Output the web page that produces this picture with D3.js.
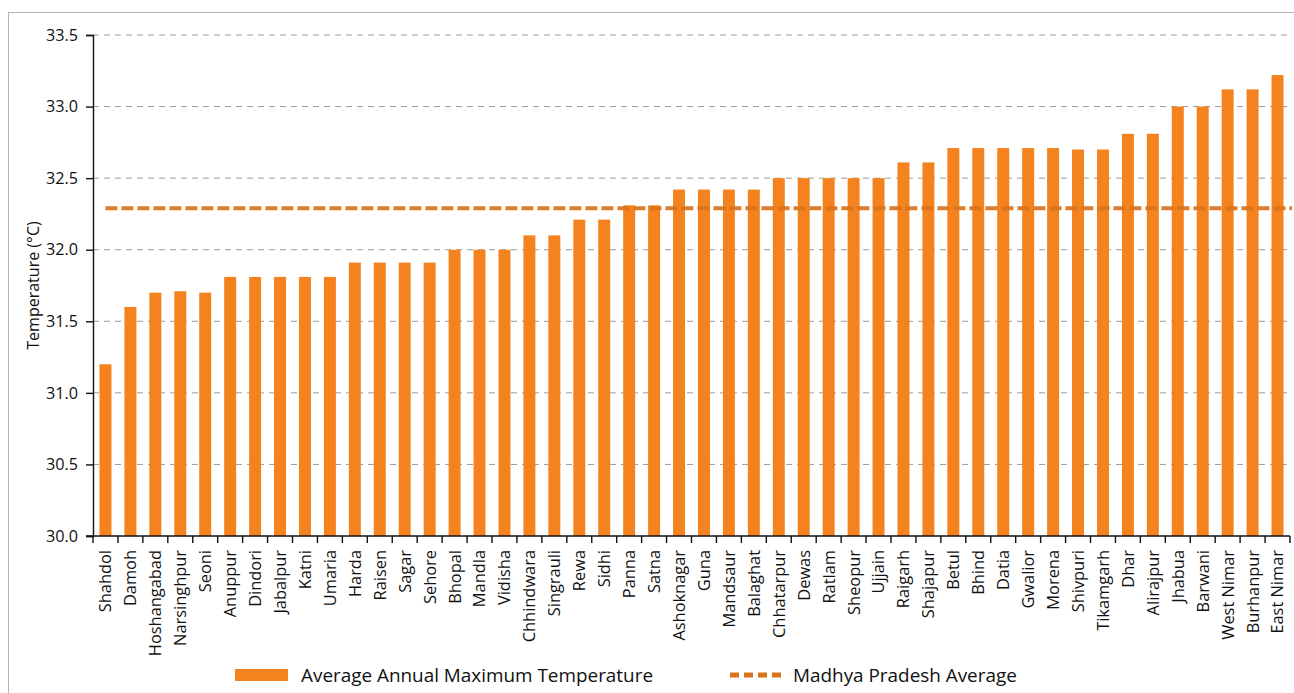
<!DOCTYPE html>
<html>
<head>
<meta charset="utf-8">
<script src="https://cdnjs.cloudflare.com/ajax/libs/d3/7.8.5/d3.min.js"></script>
<style>
    body { margin: 0; background: #fff; }
    svg text { font-family: "Open Sans", sans-serif; fill: #111; }
</style>
</head>
<body>
<svg id="svg_bar" width="1294" height="693"></svg>
<script>
let districts = ['Shahdol', 'Damoh', 'Hoshangabad', 'Narsinghpur', 'Seoni', 'Anuppur', 'Dindori', 'Jabalpur',
    'Katni', 'Umaria', 'Harda', 'Raisen', 'Sagar', 'Sehore', 'Bhopal', 'Mandla', 'Vidisha', 'Chhindwara',
    'Singrauli', 'Rewa', 'Sidhi', 'Panna', 'Satna', 'Ashoknagar', 'Guna', 'Mandsaur', 'Balaghat', 'Chhatarpur',
    'Dewas', 'Ratlam', 'Sheopur', 'Ujjain', 'Raigarh', 'Shajapur', 'Betul', 'Bhind', 'Datia', 'Gwalior',
    'Morena', 'Shivpuri', 'Tikamgarh', 'Dhar', 'Alirajpur', 'Jhabua', 'Barwani', 'West Nimar', 'Burhanpur', 'East Nimar']
let max_temp = [31.2, 31.6, 31.7, 31.71, 31.7, 31.81, 31.81, 31.81,
    31.81, 31.81, 31.91, 31.91, 31.91, 31.91, 32.0, 32.0, 32.0, 32.1,
    32.1, 32.21, 32.21, 32.31, 32.31, 32.42, 32.42, 32.42, 32.42, 32.5,
    32.5, 32.5, 32.5, 32.5, 32.61, 32.61, 32.71, 32.71, 32.71, 32.71,
    32.71, 32.7, 32.7, 32.81, 32.81, 33.0, 33.0, 33.12, 33.12, 33.22]
let mp_average = 32.29
let y_ticks = [30.0, 30.5, 31.0, 31.5, 32.0, 32.5, 33.0, 33.5]
let legend_labels = ['Average Annual Maximum Temperature', 'Madhya Pradesh Average']

let svg = d3.select('#svg_bar');
let bar_color = '#f4831f', avg_color = '#db731c';
let m_left = 93, m_right = 1290, m_top = 35, m_bottom = 536;

//外框
svg.append('rect')
    .attr('x', 8.5).attr('y', 12.5)
    .attr('width', 1300).attr('height', 700)
    .attr('fill', 'none')
    .attr('stroke', '#b5b5b5')
    .attr('stroke-width', 1);

let x = d3.scaleBand().domain(districts).range([m_left, m_right]).paddingInner(0.52).paddingOuter(0.26);
let y = d3.scaleLinear().domain([30, 33.5]).range([m_bottom, m_top]);

//网格线
svg.append('g').selectAll('line').data(y_ticks.slice(1)).enter()
    .append('line')
    .attr('x1', m_left).attr('x2', m_right)
    .attr('y1', d => y(d)).attr('y2', d => y(d))
    .attr('stroke', '#9a9a9a')
    .attr('stroke-width', 1)
    .attr('stroke-dasharray', '6,5');

//柱子
svg.append('g').selectAll('rect').data(max_temp).enter()
    .append('rect')
    .attr('x', (d, i) => x(districts[i]))
    .attr('y', d => y(d))
    .attr('width', x.bandwidth())
    .attr('height', d => y(30) - y(d))
    .attr('fill', bar_color);

//平均线
svg.append('line')
    .attr('x1', x(districts[0]) + x.bandwidth() / 2)
    .attr('x2', m_right + 2)
    .attr('y1', y(mp_average)).attr('y2', y(mp_average))
    .attr('stroke', avg_color)
    .attr('stroke-width', 4)
    .attr('opacity', 0.92)
    .attr('stroke-dasharray', '12,4');

//y轴
let yaxis = svg.append('g')
    .attr('transform', `translate(${m_left},0)`)
    .call(d3.axisLeft(y).tickValues(y_ticks).tickFormat(d3.format('.1f')).tickSize(7).tickPadding(8));
yaxis.select('.domain').attr('stroke', '#111').attr('stroke-width', 1.4);
yaxis.selectAll('.tick line').attr('stroke', '#111').attr('stroke-width', 1.4);
yaxis.selectAll('text').attr('font-size', 16.2).attr('font-family', '"Open Sans", sans-serif').attr('fill', '#111');

//x轴刻度：放在分类边界
let gap = (x.step() - x.bandwidth()) / 2;
let bounds = districts.map(d => x(d) - gap);
bounds.push(m_right);
let xaxis = svg.append('g');
xaxis.append('line')
    .attr('x1', m_left - 7).attr('x2', m_right)
    .attr('y1', m_bottom).attr('y2', m_bottom)
    .attr('stroke', '#111').attr('stroke-width', 1.4);
xaxis.selectAll('.xt').data(bounds).enter()
    .append('line')
    .attr('class', 'xt')
    .attr('x1', d => d).attr('x2', d => d)
    .attr('y1', m_bottom).attr('y2', m_bottom + 7)
    .attr('stroke', '#111').attr('stroke-width', 1.4);

//区县名称
svg.append('g').selectAll('text').data(districts).enter()
    .append('text')
    .attr('transform', d => `translate(${x(d) + x.bandwidth() / 2},550) rotate(-90)`)
    .attr('text-anchor', 'end')
    .attr('dy', '0.36em')
    .attr('font-size', 16.4)
    .text(d => d);

//y轴标题
svg.append('text')
    .attr('transform', `translate(39,${(m_top + m_bottom) / 2}) rotate(-90)`)
    .attr('text-anchor', 'middle')
    .attr('font-size', 16)
    .text('Temperature (°C)');

//图例
let legend = svg.append('g');
legend.append('rect')
    .attr('x', 235).attr('y', 669)
    .attr('width', 53).attr('height', 12)
    .attr('fill', bar_color);
legend.append('text')
    .attr('x', 301).attr('y', 682)
    .attr('font-size', 18.9)
    .text(legend_labels[0]);
legend.append('line')
    .attr('x1', 730).attr('x2', 782)
    .attr('y1', 675).attr('y2', 675)
    .attr('stroke', avg_color)
    .attr('stroke-width', 5)
    .attr('stroke-dasharray', '9,5');
legend.append('text')
    .attr('x', 793).attr('y', 682)
    .attr('font-size', 18.9)
    .text(legend_labels[1]);
</script>
</body>
</html>
